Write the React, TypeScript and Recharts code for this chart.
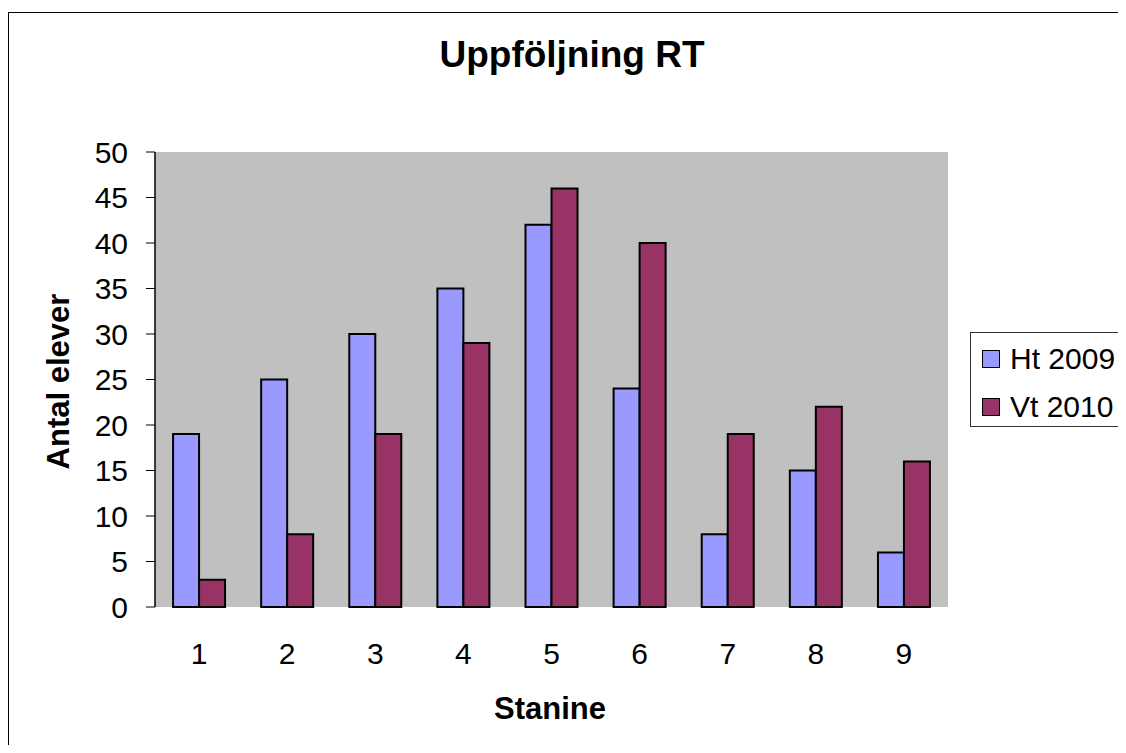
import React from 'react';
import { BarChart, Bar, XAxis, YAxis, CartesianGrid } from 'recharts';

const categories = ['1', '2', '3', '4', '5', '6', '7', '8', '9'];
const ht2009 = [19, 25, 30, 35, 42, 24, 8, 15, 6];
const vt2010 = [3, 8, 19, 29, 46, 40, 19, 22, 16];
const yTicks = [0, 5, 10, 15, 20, 25, 30, 35, 40, 45, 50];
const boundaryTicks = [0, 1, 2, 3, 4, 5, 6, 7, 8, 9];
const seriesNames = ['Ht 2009', 'Vt 2010'];
const seriesColors = ['#9999FF', '#993366'];

const data = categories.map((c, i) => ({ cat: c, ht: ht2009[i], vt: vt2010[i] }));

const FONT = 'Liberation Sans, Arial, sans-serif';

export default function App() {
  return (
    <div style={{ position: 'relative', margin: -8, width: 1126, height: 753, overflow: 'hidden', background: '#fff', fontFamily: FONT }}>
      <div style={{ position: 'absolute', left: 8, top: 12, width: 1140, height: 780, border: '1px solid #000', boxSizing: 'border-box' }} />
      <div style={{ position: 'absolute', left: 0, top: 0 }}>
        <BarChart
          width={1126}
          height={753}
          data={data}
          margin={{ top: 152, right: 178, bottom: 86, left: 55 }}
          barCategoryGap="20.5%"
          barGap={0}
        >
          <CartesianGrid vertical={false} fill="#C0C0C0" stroke="#000" strokeWidth={1} horizontalValues={yTicks} />
          <XAxis
            xAxisId="b"
            type="number"
            domain={[0, 9]}
            ticks={boundaryTicks}
            height={0}
            tick={false}
            tickSize={11}
            axisLine={{ stroke: '#000', strokeWidth: 1 }}
            tickLine={{ stroke: '#000', strokeWidth: 1 }}
            allowDataOverflow
          />
          <XAxis
            xAxisId="cat"
            dataKey="cat"
            height={60}
            axisLine={false}
            tickLine={false}
            tickSize={0}
            tickMargin={36}
            tick={{ fill: '#000', fontSize: 30, fontFamily: FONT }}
          />
          <XAxis
            xAxisId="top"
            dataKey="cat"
            orientation="top"
            height={0}
            tick={false}
            tickLine={false}
            axisLine={{ stroke: '#808080', strokeWidth: 2 }}
          />
          <YAxis
            yAxisId="left"
            domain={[0, 50]}
            ticks={yTicks}
            width={100}
            tickSize={9}
            tickMargin={18}
            axisLine={{ stroke: '#000', strokeWidth: 1.5 }}
            tickLine={{ stroke: '#000', strokeWidth: 1 }}
            tick={{ fill: '#000', fontSize: 30, fontFamily: FONT }}
            interval={0}
          />
          <YAxis
            yAxisId="right"
            orientation="right"
            domain={[0, 50]}
            width={0}
            tick={false}
            tickLine={false}
            axisLine={{ stroke: '#808080', strokeWidth: 2 }}
          />
          <Bar dataKey="ht" name={seriesNames[0]} xAxisId="cat" yAxisId="left" fill={seriesColors[0]} stroke="#000" strokeWidth={2} isAnimationActive={false} />
          <Bar dataKey="vt" name={seriesNames[1]} xAxisId="cat" yAxisId="left" fill={seriesColors[1]} stroke="#000" strokeWidth={2} isAnimationActive={false} />
        </BarChart>
      </div>
      <div style={{ position: 'absolute', left: 372, width: 400, top: 36, textAlign: 'center', fontSize: 37, fontWeight: 'bold', lineHeight: '37px', whiteSpace: 'nowrap' }}>
        Uppföljning RT
      </div>
      <div style={{ position: 'absolute', left: 350, width: 400, top: 693, textAlign: 'center', fontSize: 31, fontWeight: 'bold', lineHeight: '31px' }}>
        Stanine
      </div>
      <div style={{ position: 'absolute', left: 58, top: 381, width: 0, height: 0 }}>
        <div style={{ position: 'absolute', left: -200, top: -15.5, width: 400, height: 31, textAlign: 'center', fontSize: 31, fontWeight: 'bold', lineHeight: '31px', transform: 'rotate(-90deg)', whiteSpace: 'nowrap' }}>
          Antal elever
        </div>
      </div>
      <div style={{ position: 'absolute', left: 970, top: 332, width: 170, height: 95, border: '1px solid #333', boxSizing: 'border-box', background: '#fff' }}>
        {seriesNames.map((n, i) => (
          <div key={n} style={{ position: 'absolute', left: 11, top: 10.5 + i * 48, display: 'flex', alignItems: 'center', height: 30, whiteSpace: 'nowrap' }}>
            <div style={{ width: 16, height: 16, background: seriesColors[i], border: '1.5px solid #000', marginRight: 10 }} />
            <span style={{ fontSize: 30, lineHeight: '30px', color: '#000' }}>{n}</span>
          </div>
        ))}
      </div>
    </div>
  );
}
